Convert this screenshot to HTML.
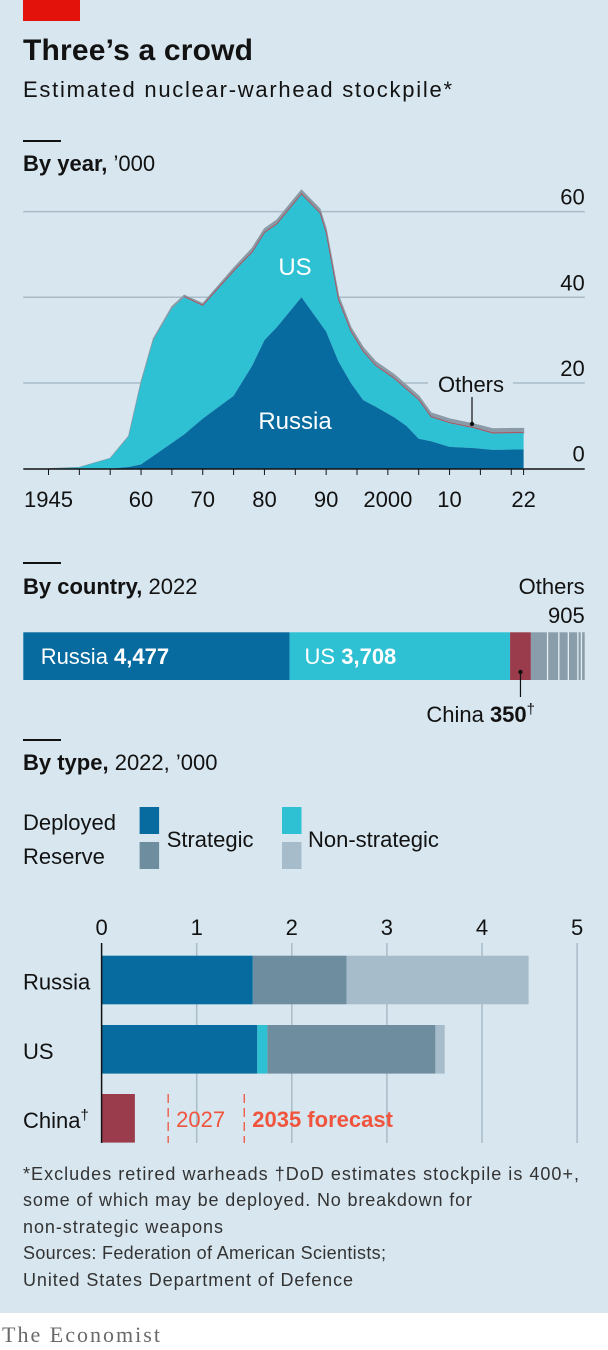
<!DOCTYPE html>
<html><head><meta charset="utf-8">
<style>
html,body{margin:0;padding:0;background:#fff;}
svg{display:block;}
text{font-family:"Liberation Sans Narrow","Liberation Sans",sans-serif;}
</style></head>
<body>
<svg width="608" height="1350" viewBox="0 0 608 1350">
<rect x="0" y="0" width="608" height="1313" fill="#d7e6ef"/>
<rect x="23" y="0" width="57" height="21" fill="#e3120b"/>
<text x="23" y="60" font-size="30" font-weight="bold" fill="#121212" textLength="230">Three’s a crowd</text>
<text x="23" y="97" font-size="22" fill="#121212" textLength="429">Estimated nuclear-warhead stockpile*</text>

<rect x="23" y="140" width="38" height="2" fill="#121212"/>
<text x="23" y="171" font-size="22" fill="#121212"><tspan font-weight="bold">By year,</tspan> ’000</text>
<g id="area"></g>

<rect x="23" y="562" width="38" height="2" fill="#121212"/>
<text x="23" y="594" font-size="22" fill="#121212"><tspan font-weight="bold">By country,</tspan> 2022</text>
<g id="country"></g>

<rect x="23" y="739" width="38" height="2" fill="#121212"/>
<text x="23" y="770" font-size="22" fill="#121212"><tspan font-weight="bold">By type,</tspan> 2022, ’000</text>

<g>
<text x="23" y="830" font-size="22" fill="#121212">Deployed</text>
<text x="23" y="864" font-size="22" fill="#121212">Reserve</text>
<rect x="139.6" y="807" width="19.5" height="27" fill="#076ba0"/>
<rect x="139.6" y="842" width="19.5" height="27" fill="#6e8d9f"/>
<rect x="282" y="807" width="19.5" height="27" fill="#2ec0d3"/>
<rect x="282" y="842" width="19.5" height="27" fill="#a7bccb"/>
<text x="166.7" y="847" font-size="22" fill="#121212">Strategic</text>
<text x="308" y="847" font-size="22" fill="#121212">Non-strategic</text>
</g>
<g id="type"></g>

<g font-size="18" fill="#333">
<text x="23" y="1180" textLength="556">*Excludes retired warheads   †DoD estimates stockpile is 400+,</text>
<text x="23" y="1206" textLength="449">some of which may be deployed. No breakdown for</text>
<text x="23" y="1233" textLength="200">non-strategic weapons</text>
<text x="23" y="1259" textLength="363">Sources: Federation of American Scientists;</text>
<text x="23" y="1286" textLength="330">United States Department of Defence</text>
</g>
<text x="2" y="1342" font-size="22" fill="#6a6a6a" textLength="158" style="font-family:'Liberation Serif',serif">The Economist</text>
</svg>
<script>
var NS="http://www.w3.org/2000/svg";
// ---- By year area chart data ('000) ----
var years=[1945,1950,1955,1958,1960,1962,1965,1967,1970,1975,1978,1980,1982,1986,1989,1990,1992,1994,1996,1998,2001,2003,2005,2007,2010,2014,2017,2022];
var russia=[0,0,0,0.4,1,3,6,8,11.7,17,24,30,33,40,34,32,25,20,16,14.5,12,10,7,6.4,5.1,4.8,4.4,4.5];
var us=[0,0.3,2.4,7.1,19,27,31.4,32,26.3,29,26.4,25,24,24,25.6,23,14.4,12,11.3,9.5,9,8.5,9,5.6,5.5,4.6,3.8,3.8];
var others=[0,0,0,0.1,0.2,0.3,0.4,0.5,0.5,0.8,1,1,1,1,1,1,1,1,1,1,1,1,1,1,1,1,1.1,1.1];
var yTicks=[0,20,40,60];
var xTickLabels=[[1945,"1945"],[1960,"60"],[1970,"70"],[1980,"80"],[1990,"90"],[2000,"2000"],[2010,"10"],[2022,"22"]];
// ---- By country ----
var countryNames=["Russia","US","China","Others"];
var countryValues=[4477,3708,350,905];
var othersSplit=[280,190,160,160,60,55];
// ---- By type ('000) ----
var typeCats=["Russia","US","China"];
var depStrat=[1.59,1.637,0];
var depNon=[0,0.106,0];
var resStrat=[0.985,1.767,0];
var resNon=[1.915,0.098,0];
var chinaTotal=[0,0,0.35];
var typeTicks=[0,1,2,3,4,5];
var forecastVals=[0.7,1.5];
var forecastLabels=["2027","2035 forecast"];

function mk(tag,attrs,parent){var e=document.createElementNS(NS,tag);for(var k in attrs)e.setAttribute(k,attrs[k]);parent.appendChild(e);return e;}

// area chart
var A=document.getElementById("area");
function ax(yr){return 48.5+(yr-1945)*6.17;}
function ay(v){return 468.7-v*4.285;}
yTicks.forEach(function(t){
  if(t>0){var l=mk("line",{x1:23.3,x2:584.7,y1:ay(t),y2:ay(t),stroke:"#a9bcc8","stroke-width":1.5},A);
  
  }
  var tx=mk("text",{x:584.7,y:ay(t)-7,"font-size":22,"text-anchor":"end",fill:"#121212"},A);tx.textContent=t;
  
  
});
function stackPts(fn){var top=[],bot=[];for(var i=0;i<years.length;i++){var b=fn(i,0),t=fn(i,1);top.push(ax(years[i])+","+ay(t));bot.unshift(ax(years[i])+","+ay(b));}return top.concat(bot).join(" ");}
var oth=mk("polygon",{points:stackPts(function(i,k){return k?russia[i]+us[i]+others[i]:russia[i]+us[i];}),fill:"#8a9aa6",stroke:"#8a9aa6","stroke-width":1.2},A);


var usA=mk("polygon",{points:stackPts(function(i,k){return k?russia[i]+us[i]:russia[i];}),fill:"#2ec0d3"},A);


var ruA=mk("polygon",{points:stackPts(function(i,k){return k?russia[i]:0;}),fill:"#076ba0"},A);


var rl=[];for(var i=7;i<years.length;i++)rl.push(ax(years[i])+","+ay(russia[i]+us[i]+0.15));
var red=mk("polyline",{points:rl.join(" "),fill:"none",stroke:"#b44a55","stroke-width":0.8},A);


var axl=mk("line",{x1:23.3,x2:584.7,y1:469,y2:469,stroke:"#121212","stroke-width":1.5},A);


for(var yr=1945;yr<=2020;yr+=5){var tk=mk("line",{x1:ax(yr),x2:ax(yr),y1:469,y2:475,stroke:"#121212","stroke-width":1},A);

}
var tk2=mk("line",{x1:ax(2022),x2:ax(2022),y1:469,y2:475,stroke:"#121212","stroke-width":1},A);


xTickLabels.forEach(function(p){var t=mk("text",{x:ax(p[0]),y:507,"font-size":22,"text-anchor":"middle",fill:"#121212"},A);t.textContent=p[1];

});
var l1=mk("text",{x:295,y:275,"font-size":24,"text-anchor":"middle",fill:"#fff"},A);l1.textContent="US";


var l2=mk("text",{x:295,y:429,"font-size":24,"text-anchor":"middle",fill:"#fff"},A);l2.textContent="Russia";


var bg=mk("rect",{x:428,y:370,width:85,height:26,fill:"#d7e6ef"},A);


var l3=mk("text",{x:471,y:392,"font-size":22,"text-anchor":"middle",fill:"#121212"},A);l3.textContent="Others";


var ld=mk("line",{x1:472,x2:472,y1:397,y2:423,stroke:"#121212","stroke-width":1.2},A);


var dt=mk("circle",{cx:472,cy:424,r:2.2,fill:"#121212"},A);



// country bar
var C=document.getElementById("country");
var tot=countryValues.reduce(function(a,b){return a+b;},0);
function cx(v){return 23.3+v/tot*561.4;}
var cols=["#076ba0","#2ec0d3","#9b3c4c","#8a9dab"];
var acc=0;
countryValues.forEach(function(v,i){var r=mk("rect",{x:cx(acc),y:632.3,width:cx(acc+v)-cx(acc),height:47.7,fill:cols[i]},C);


acc+=v;});
var oacc=countryValues[0]+countryValues[1]+countryValues[2];
othersSplit.forEach(function(v,i){if(i>0){var s=mk("line",{x1:cx(oacc),x2:cx(oacc),y1:632.3,y2:680,stroke:"#e6eef3","stroke-width":1.3},C);

}oacc+=v;});
function ctext(x,y,html,anchor,name,fill){var t=mk("text",{x:x,y:y,"font-size":22,fill:fill||"#121212","text-anchor":anchor||"start"},C);t.innerHTML=html;

return t;}
ctext(40.7,664,"Russia <tspan font-weight='bold'>"+countryValues[0].toLocaleString("en-US")+"</tspan>","start","russia-value","#fff");
ctext(cx(countryValues[0])+15,664,"US <tspan font-weight='bold'>"+countryValues[1].toLocaleString("en-US")+"</tspan>","start","us-value","#fff");
ctext(584.7,594,"Others","end","others-name");
ctext(584.7,623,String(countryValues[3]),"end","others-value");
var chx=(cx(countryValues[0]+countryValues[1])+cx(countryValues[0]+countryValues[1]+countryValues[2]))/2;
var cl=mk("line",{x1:chx,x2:chx,y1:672,y2:697,stroke:"#121212","stroke-width":1.2},C);


var cd=mk("circle",{cx:chx,cy:672,r:2.2,fill:"#121212"},C);


ctext(535,722,"China <tspan font-weight='bold'>"+countryValues[2]+"</tspan><tspan font-size='15' dy='-8'>†</tspan>","end","china-value");

// type chart
var T=document.getElementById("type");
function tx(v){return 101.6+v*95.1;}
var rowY=[955.7,1025,1094];var bh=48.6;
typeTicks.forEach(function(t){
  if(t>0){var g=mk("line",{x1:tx(t),x2:tx(t),y1:943,y2:1143,stroke:"#a9bcc8","stroke-width":1.5},T);
  
  }
  var l=mk("text",{x:tx(t),y:935,"font-size":22,"text-anchor":"middle",fill:"#121212"},T);l.textContent=t;
  
  
});
var segs=[[depStrat,"#076ba0","deployed-strategic"],[depNon,"#2ec0d3","deployed-nonstrategic"],[resStrat,"#6e8d9f","reserve-strategic"],[resNon,"#a7bccb","reserve-nonstrategic"],[chinaTotal,"#9b3c4c","china-total"]];
typeCats.forEach(function(c,i){
  var a=0;
  segs.forEach(function(s){var v=s[0][i];if(v>0){var r=mk("rect",{x:tx(a),y:rowY[i],width:tx(a+v)-tx(a),height:bh,fill:s[1]},T);
  
  
  a+=v;}});
  var lb=mk("text",{x:23,y:rowY[i]+34,"font-size":22,fill:"#121212"},T);
  lb.innerHTML=c+(c==="China"?"<tspan font-size='15' dy='-8'>†</tspan>":"");
  
  
});
var yax=mk("line",{x1:tx(0),x2:tx(0),y1:943,y2:1143,stroke:"#121212","stroke-width":1.5},T);


forecastVals.forEach(function(v,i){
  var d=mk("line",{x1:tx(v),x2:tx(v),y1:1094,y2:1143,stroke:"#f0543c","stroke-width":1.3,"stroke-dasharray":"9,5"},T);
  
  
  var t=mk("text",{x:tx(v)+8,y:1127,"font-size":22,fill:"#f0543c","font-weight":i===1?"bold":"normal"},T);t.textContent=forecastLabels[i];
  
  
});
</script>
</body></html>
